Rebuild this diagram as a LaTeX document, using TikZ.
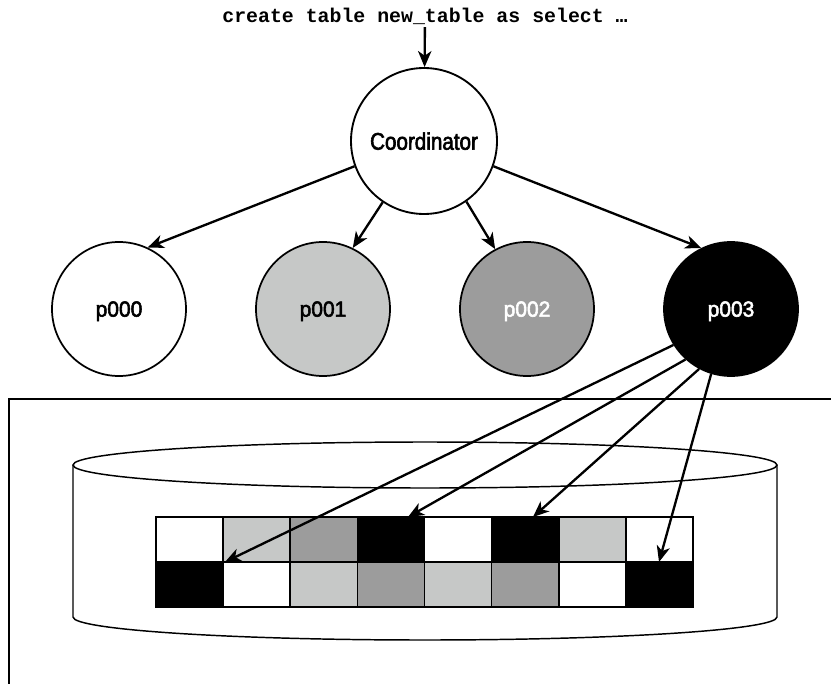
\documentclass[tikz,border=0pt]{standalone}
\usepackage{fontspec}
\setmainfont{Liberation Sans}[FakeStretch=0.87]
\newfontfamily\labelfont{Liberation Sans}[FakeStretch=0.86,FakeBold=2.5]
\newfontfamily\plabelfont{Liberation Sans}[FakeStretch=0.96,FakeBold=2.5]
\newfontfamily\codefont{Liberation Mono}
\usetikzlibrary{arrows.meta}
\definecolor{lightg}{HTML}{C6C8C7}
\definecolor{darkg}{HTML}{9C9C9C}
\tikzset{
  proc/.style={circle,draw,line width=1.3pt,minimum size=100.5pt,inner sep=0pt,
    font=\plabelfont\fontsize{16.4}{18}\selectfont,text depth=0pt},
  arr/.style={line width=1.75pt,-{Stealth[length=12pt,width=10pt,inset=3.5pt]}},
  cell/.style={draw,line width=1.2pt},
  cyl/.style={draw,line width=1.1pt,fill=white},
  frame/.style={line width=1.8pt}
}
\begin{document}
\begin{tikzpicture}[x=0.75pt,y=-0.75pt]
\useasboundingbox (0,0) rectangle (831,684);
% frame
\draw[frame] (831,399) -- (9,399) -- (9,684);
% cylinder
\draw[cyl] (73,465) -- (73,617) arc[start angle=180,end angle=360,x radius=264pt,y radius=17.25pt] -- (777,465);
\draw[cyl] (425,465) ellipse [x radius=264pt,y radius=17.25pt];
% grid
\foreach \c [count=\i from 0] in {white,lightg,darkg,black,white,black,lightg,white}
  \filldraw[cell,fill=\c] ({156+67.125*\i},517) rectangle ({156+67.125*(\i+1)},562);
\foreach \c [count=\i from 0] in {black,white,lightg,darkg,lightg,darkg,white,black}
  \filldraw[cell,fill=\c] ({156+67.125*\i},562) rectangle ({156+67.125*(\i+1)},607);
\coordinate (t1) at (225,562);
\coordinate (t2) at (408,517);
\coordinate (t3) at (533,517);
\coordinate (t4) at (659,562);
% title
\node[font=\codefont\bfseries\fontsize{14.9}{16}\selectfont,inner sep=2pt] (title) at (425,16) {create table new\_table as select …};
% nodes
\node[proc,line width=1.4pt,minimum size=109.5pt,font=\labelfont\fontsize{18}{20}\selectfont] (coord) at (424,141) {Coordinator};
\node[proc] (p0) at (119,309) {p000};
\node[proc,fill=lightg] (p1) at (323,309) {p001};
\node[proc,fill=darkg,text=white] (p2) at (527,309) {p002};
\node[proc,fill=black,text=white] (p3) at (731,309) {p003};
% arrows
\draw[arr] (title) -- (coord);
\draw[arr] (coord.200.8) -- (p0.65);
\draw[arr] (coord.236.5) -- (p1.64);
\draw[arr] (coord.305) -- (p2.118.7);
\draw[arr] (coord.340) -- (p3.116.6);
\draw[arr] (p3.212.5) -- (t1);
\draw[arr] (p3.228) -- (t2);
\draw[arr] (p3.242) -- (t3);
\draw[arr] (p3.253.7) -- (t4);
\end{tikzpicture}
\end{document}
